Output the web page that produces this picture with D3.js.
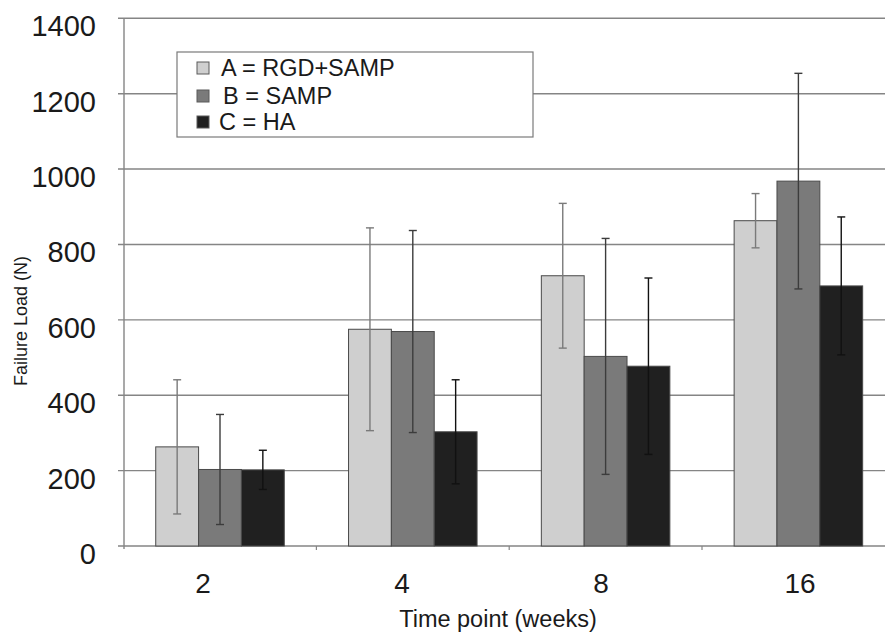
<!DOCTYPE html>
<html>
<head>
<meta charset="utf-8">
<script src="https://cdn.jsdelivr.net/npm/d3@7"></script>
<style>
  html, body { margin: 0; padding: 0; background: #fff; }
  svg { display: block; font-family: "Liberation Sans", Arial, Helvetica, sans-serif; }
</style>
</head>
<body>
<svg id="chart" width="885" height="632"></svg>
<script>
// Failure load (N) by time point, three coating groups, mean ± SD
const timePoints = ["2", "4", "8", "16"];
const seriesNames = ["A", "B", "C"];
const legendLabels = ["A = RGD+SAMP", "B = SAMP", "C = HA"];
const valuesA = [263, 575, 717, 863];
const valuesB = [203, 569, 503, 968];
const valuesC = [202, 303, 477, 690];
const errorsA = [178, 269, 192, 72];
const errorsB = [146, 268, 313, 286];
const errorsC = [52, 138, 234, 183];
const yTicks = [0, 200, 400, 600, 800, 1000, 1200, 1400];

const fills = { A: "#cfcfcf", B: "#7a7a7a", C: "#202020" };
const errColors = { A: "#7a7a7a", B: "#3c3c3c", C: "#111" };

const rows = [];
timePoints.forEach((t, i) => {
  rows.push({ t, s: "A", v: valuesA[i], e: errorsA[i] });
  rows.push({ t, s: "B", v: valuesB[i], e: errorsB[i] });
  rows.push({ t, s: "C", v: valuesC[i], e: errorsC[i] });
});

const svg = d3.select("#chart");

const y = d3.scaleLinear().domain([0, 1400]).range([546, 18.3]);
const x = d3.scaleBand().domain(timePoints).range([123.6, 894.8]).padding(0);
const xs = d3.scaleBand().domain(seriesNames).range([0, x.bandwidth()])
  .paddingInner(0).paddingOuter(0.75);
// tick label positions along the category axis
const xLabel = d3.scalePoint().domain(timePoints).range([203, 800]);

const axisX = 124;

// horizontal gridlines (including the baseline)
svg.append("g").selectAll("line").data(yTicks).join("line")
  .attr("x1", axisX - 6).attr("x2", 885)
  .attr("y1", d => y(d)).attr("y2", d => y(d))
  .attr("stroke", "#858585").attr("stroke-width", 1.4);

// vertical axis line
svg.append("line")
  .attr("x1", axisX).attr("x2", axisX)
  .attr("y1", y(1400)).attr("y2", y(0) + 3)
  .attr("stroke", "#858585").attr("stroke-width", 1.4);

// category boundary ticks below the baseline
svg.append("g").selectAll("line").data(timePoints.slice(1)).join("line")
  .attr("x1", d => x(d)).attr("x2", d => x(d))
  .attr("y1", y(0)).attr("y2", y(0) + 4)
  .attr("stroke", "#858585").attr("stroke-width", 1.2);

// y tick labels
svg.append("g").selectAll("text").data(yTicks).join("text")
  .attr("x", 96).attr("y", d => y(d) + 18)
  .attr("text-anchor", "end")
  .attr("font-size", 29).attr("fill", "#1a1a1a")
  .text(d => d);

// bars
svg.append("g").selectAll("rect").data(rows).join("rect")
  .attr("x", d => x(d.t) + xs(d.s))
  .attr("y", d => y(d.v))
  .attr("width", xs.bandwidth())
  .attr("height", d => y(0) - y(d.v))
  .attr("fill", d => fills[d.s])
  .attr("stroke", "#4a4a4a").attr("stroke-width", 1);

// error bars
const eg = svg.append("g").selectAll("g").data(rows).join("g")
  .attr("stroke", d => errColors[d.s]).attr("stroke-width", 1.4);
const cx = d => x(d.t) + xs(d.s) + xs.bandwidth() / 2;
eg.append("line")
  .attr("x1", cx).attr("x2", cx)
  .attr("y1", d => y(d.v + d.e)).attr("y2", d => y(d.v - d.e));
eg.append("line")
  .attr("x1", d => cx(d) - 4).attr("x2", d => cx(d) + 4)
  .attr("y1", d => y(d.v + d.e)).attr("y2", d => y(d.v + d.e));
eg.append("line")
  .attr("x1", d => cx(d) - 4).attr("x2", d => cx(d) + 4)
  .attr("y1", d => y(d.v - d.e)).attr("y2", d => y(d.v - d.e));

// x tick labels
svg.append("g").selectAll("text").data(timePoints).join("text")
  .attr("x", d => xLabel(d)).attr("y", 593)
  .attr("text-anchor", "middle")
  .attr("font-size", 28).attr("fill", "#1a1a1a")
  .text(d => d);

// axis titles
svg.append("text")
  .attr("x", 498).attr("y", 627)
  .attr("text-anchor", "middle")
  .attr("font-size", 23.5).attr("fill", "#1a1a1a")
  .text("Time point (weeks)");

svg.append("text")
  .attr("transform", "translate(27,321) rotate(-90)")
  .attr("text-anchor", "middle")
  .attr("font-size", 18).attr("fill", "#1a1a1a")
  .text("Failure Load (N)");

// legend
const legend = svg.append("g");
legend.append("rect")
  .attr("x", 177).attr("y", 52).attr("width", 356).attr("height", 85)
  .attr("fill", "#fff").attr("stroke", "#7a7a7a").attr("stroke-width", 1.2);
const legendRows = [
  { s: "A", label: legendLabels[0], cy: 68, tx: 221 },
  { s: "B", label: legendLabels[1], cy: 96, tx: 223 },
  { s: "C", label: legendLabels[2], cy: 122, tx: 219 }
];
const li = legend.selectAll("g").data(legendRows).join("g");
li.append("rect")
  .attr("x", 197).attr("y", d => d.cy - 6)
  .attr("width", 12).attr("height", 12)
  .attr("fill", d => fills[d.s]).attr("stroke", "#5a5a5a").attr("stroke-width", 1);
li.append("text")
  .attr("x", d => d.tx).attr("y", d => d.cy + 8)
  .attr("font-size", 23.5).attr("fill", "#1a1a1a")
  .text(d => d.label);
</script>
</body>
</html>
